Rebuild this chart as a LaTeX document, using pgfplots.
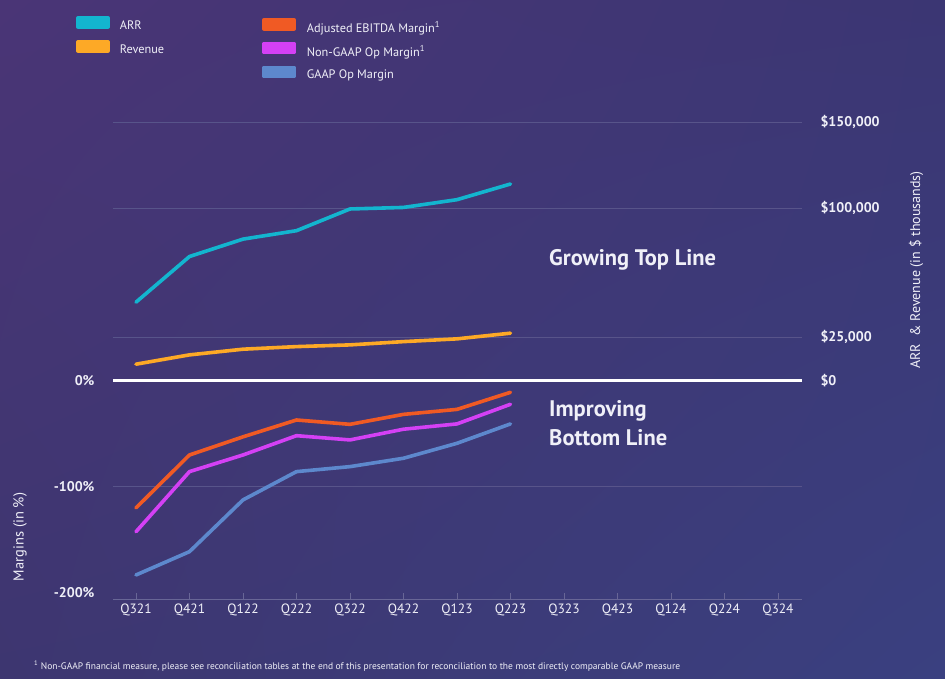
\documentclass[border=0pt]{standalone}
\usepackage{pgfplots}
\pgfplotsset{compat=1.18}
\usetikzlibrary{shadings}
\usepackage{fontspec}
\setmainfont{PT Sans}
\definecolor{bgtl}{RGB}{74,53,118}
\definecolor{bgtr}{RGB}{59,54,115}
\definecolor{bgbl}{RGB}{61,54,112}
\definecolor{bgbr}{RGB}{58,64,128}
\definecolor{gridc}{RGB}{88,84,138}
\definecolor{axisc}{RGB}{104,102,150}
\definecolor{txt}{RGB}{240,240,248}
\definecolor{arrc}{RGB}{19,181,207}
\definecolor{revc}{RGB}{253,169,38}
\definecolor{ebitc}{RGB}{240,90,36}
\definecolor{ngc}{RGB}{212,64,245}
\definecolor{gaapc}{RGB}{93,136,205}
\newcommand{\fs}[1]{\fontsize{#1}{#1}\selectfont}
\begin{document}
\begin{tikzpicture}[x=1pt,y=1pt]
\path[use as bounding box] (0,0) rectangle (945,679);
\shade[upper left=bgtl, upper right=bgtr, lower left=bgbl, lower right=bgbr] (0,0) rectangle (945,679);
% right axis: ARR and revenue
\begin{axis}[
  at={(113pt,79pt)}, anchor=south west, scale only axis,
  width=689pt, height=478pt,
  xmin=-0.43, xmax=12.45, ymin=-127500, ymax=150000,
  axis x line=none, axis y line*=right,
  y axis line style={draw=none},
  ytick={0,25000,100000,150000},
  yticklabels={\$0,\$25{,}000,\$100{,}000,\$150{,}000},
  scaled y ticks=false,
  ytick style={draw=none},
  yticklabel style={font=\fs{14}\bfseries, text=txt, xshift=15pt},
  /pgf/number format/assume math mode=true,
  ymajorgrids, major grid style={gridc, line width=0.9pt},
  extra y ticks={-61700}, extra y tick labels={},
  extra y tick style={grid=major},
  legend style={at={(axis description cs:-0.0537,1.222)}, anchor=north west,
    draw=none, fill=none, text=txt, font=\fs{12.3}, inner sep=0pt,
    row sep=9pt, nodes={inner sep=0pt},
    /tikz/every odd column/.append style={column sep=10pt}},
  legend cell align=left,
  legend image code/.code={\fill[#1] (0pt,-1pt) rectangle (30pt,8pt);},
]
\addplot[arrc, line width=3.6pt, line cap=round, line join=round] coordinates {
 (0,45400) (1,71900) (2,82000) (3,86900) (4,99500) (5,100400) (6,104900) (7,114000)};
\addlegendentry{ARR}
\addplot[revc, line width=3.6pt, line cap=round, line join=round] coordinates {
 (0,9400) (1,14800) (2,18100) (3,19600) (4,20600) (5,22500) (6,24100) (7,27400)};
\addlegendentry{Revenue}
\end{axis}
% left axis: margins
\begin{axis}[
  at={(113pt,79pt)}, anchor=south west, scale only axis,
  width=689pt, height=478pt,
  xmin=-0.43, xmax=12.45, ymin=-206.9, ymax=244,
  axis x line*=bottom, axis y line*=left,
  y axis line style={draw=none},
  x axis line style={axisc, line width=1pt},
  xtick={0,...,12},
  xticklabels={Q321,Q421,Q122,Q222,Q322,Q422,Q123,Q223,Q323,Q423,Q124,Q224,Q324},
  xtick style={axisc, line width=0.8pt},
  tick align=inside, major tick length=7pt,
  xticklabel style={font=\fs{13.5}, text=txt},
  ytick={-200,-100}, yticklabels={-200\%,-100\%},
  ytick style={draw=none},
  yticklabel style={font=\fs{14}\bfseries, text=txt, xshift=-15pt},
  extra y ticks={0}, extra y tick labels={0\%},
  extra y tick style={grid=major, major grid style={white, line width=2.4pt}, ytick style={draw=none}},
  /pgf/number format/assume math mode=true,
  legend style={at={(axis description cs:0.2163,1.218)}, anchor=north west,
    draw=none, fill=none, text=txt, font=\fs{12.3}, inner sep=0pt,
    row sep=8pt, nodes={inner sep=0pt},
    /tikz/every odd column/.append style={column sep=11pt}},
  legend cell align=left,
  legend image code/.code={\fill[#1] (0pt,-1pt) rectangle (30pt,8pt);},
]
\addplot[ebitc, line width=3.6pt, line cap=round, line join=round] coordinates {
 (0,-120.0) (1,-70.1) (2,-53.0) (3,-37.1) (4,-41.2) (5,-31.8) (6,-27.1) (7,-11.0)};
\addlegendentry{Adjusted EBITDA Margin\textsuperscript{1}}
\addplot[ngc, line width=3.6pt, line cap=round, line join=round] coordinates {
 (0,-142.5) (1,-85.8) (2,-70.1) (3,-51.9) (4,-55.9) (5,-45.8) (6,-40.8) (7,-22.3)};
\addlegendentry{Non-GAAP Op Margin\textsuperscript{1}}
\addplot[gaapc, line width=3.6pt, line cap=round, line join=round] coordinates {
 (0,-183.3) (1,-161.3) (2,-112.5) (3,-85.8) (4,-81.1) (5,-73.2) (6,-59.1) (7,-40.8)};
\addlegendentry{GAAP Op Margin}
\end{axis}
\node[anchor=west, text=txt, font=\fs{22.5}\bfseries, inner sep=0pt] at (549,419) {Growing Top Line};
\node[anchor=west, text=txt, font=\fs{22.5}\bfseries, inner sep=0pt] at (549,268) {Improving};
\node[anchor=west, text=txt, font=\fs{22.5}\bfseries, inner sep=0pt] at (549,241) {Bottom Line};
\node[rotate=90, text=txt, font=\fs{14}, inner sep=0pt] at (916,409) {ARR \ \& Revenue (in \$ thousands)};
\node[rotate=90, text=txt, font=\fs{14.5}, inner sep=0pt] at (20,142) {Margins (in \%)};
\node[anchor=west, text=txt, font=\fs{9.5}, inner sep=0pt] at (34,13) {\textsuperscript{1} Non-GAAP financial measure, please see reconciliation tables at the end of this presentation for reconciliation to the most directly comparable GAAP measure};
\end{tikzpicture}
\end{document}
